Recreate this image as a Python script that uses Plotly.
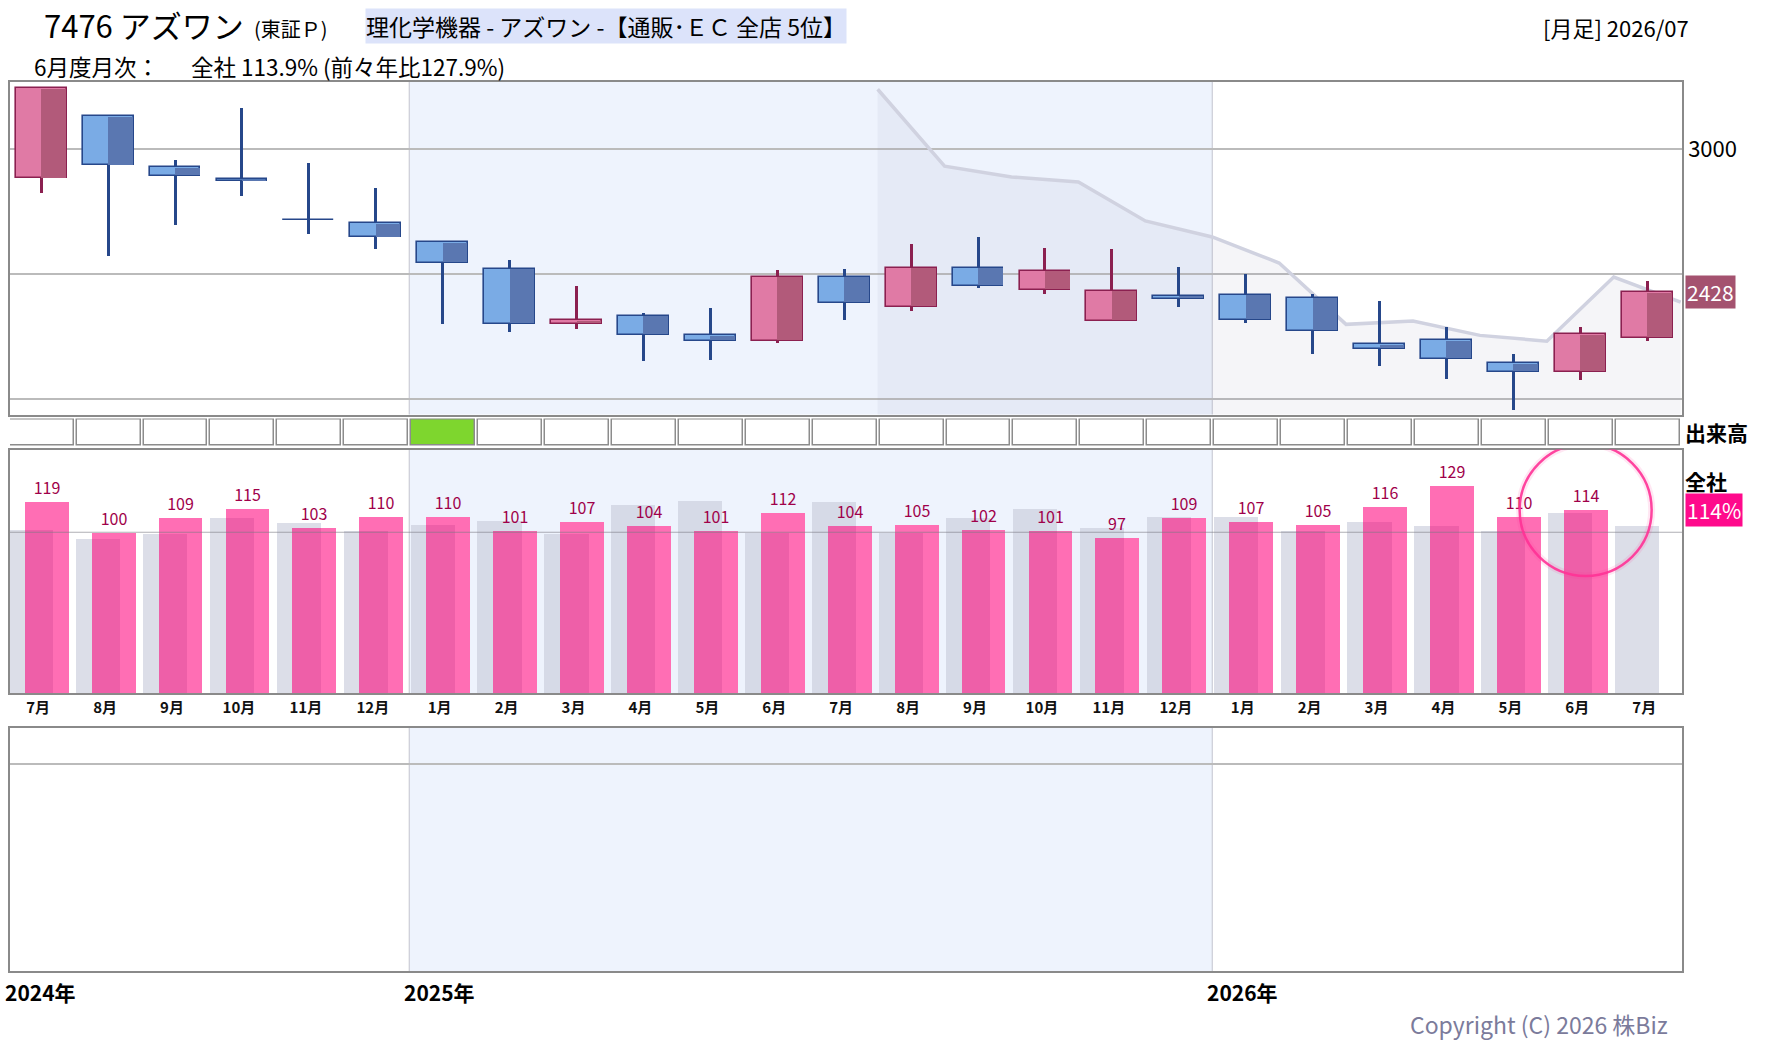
import plotly.graph_objects as go

# ---------------- data ----------------
months = ["7月", "8月", "9月", "10月", "11月", "12月", "1月", "2月", "3月", "4月", "5月", "6月",
          "7月", "8月", "9月", "10月", "11月", "12月", "1月", "2月", "3月", "4月", "5月", "6月", "7月"]
years = ["2024年", "2025年", "2026年"]

open_ = [2883, 3131, 2927, 2879, 2718, 2703, 2627, 2523, 2303, 2335, 2259, 2235, 2491,
         2371, 2527, 2439, 2315, 2415, 2419, 2407, 2223, 2239, 2147, 2111, 2247]
high = [3245, 3131, 2956, 3164, 2944, 2844, 2627, 2556, 2452, 2347, 2367, 2516, 2520,
        2620, 2648, 2604, 2600, 2528, 2500, 2420, 2392, 2291, 2180, 2291, 2472]
low = [2825, 2573, 2696, 2812, 2660, 2600, 2301, 2269, 2281, 2153, 2159, 2225, 2317,
       2353, 2445, 2421, 2315, 2369, 2305, 2181, 2133, 2081, 1959, 2079, 2235]
close = [3243, 2935, 2893, 2871, 2716, 2647, 2547, 2303, 2316, 2259, 2235, 2491, 2387,
         2527, 2455, 2515, 2435, 2403, 2319, 2275, 2203, 2163, 2111, 2263, 2428]

# grey trend line (starts half a month after index 12)
trend_start = 12
trend_values = [3239, 2932, 2889, 2869, 2713, 2649, 2545, 2300, 2313, 2256, 2233, 2489, 2389]

# monthly sales vs previous year (%), all stores
sales_yoy = [119, 100, 109, 115, 103, 110, 110, 101, 107, 104, 101, 112, 104, 105, 102, 101,
             97, 109, 107, 105, 116, 129, 110, 113.9]
prev_year_yoy = [102, 96, 99, 109, 106, 101, 105, 107.5, 99, 117.5, 119.5, 100, 119, 100, 109,
                 115, 103, 110, 110, 101, 107, 104, 101, 112, 104]
base_line = 100

volume_flag = [0, 0, 0, 0, 0, 0, 1, 0, 0, 0, 0, 0, 0, 0, 0, 0, 0, 0, 0, 0, 0, 0, 0, 0, 0]

price_ticks = [2000, 2500, 3000]
price_tick_labels = ["", "", "3000"]

# ---------------- layout helpers ----------------
W, H = 1780, 1054
L, R, T, B = 8, 98, 82, 83
PW, PH = W - L - R, H - T - B


def px_x(px):
    return (px - L) / PW


def px_y(py):
    return (H - B - py) / PH


FONT = "Noto Sans CJK JP"
n = len(months)
idx = list(range(n))
XR = [-0.466, 24.52]

fig = go.Figure()

# trend line with filled area (base price axis)
trend_x = [trend_start + k + 0.5 for k in range(len(trend_values))]
fig.add_trace(go.Scatter(
    x=trend_x, y=trend_values, mode="lines",
    line=dict(color="rgba(208,210,224,1)", width=3.5),
    fill="tozeroy", fillcolor="rgba(140,140,175,0.09)",
    xaxis="x", yaxis="y", hoverinfo="skip"))

# candles (drawn on overlay axis so they sit above the trend line)
up = [c >= o for o, c in zip(open_, close)]
border = ["#8B2050" if u else "#26478A" for u in up]
light = ["#E07AA5" if u else "#7AABE5" for u in up]
dark = ["#B25A7A" if u else "#5A77B1" for u in up]
lo = [min(o, c) for o, c in zip(open_, close)]
hi = [max(o, c) for o, c in zip(open_, close)]

fig.add_trace(go.Bar(
    x=idx, base=low, y=[h - l for h, l in zip(high, low)],
    width=0.045, offset=-0.0225,
    marker=dict(color=border, line=dict(width=0)),
    xaxis="x", yaxis="y5", hoverinfo="skip"))
fig.add_trace(go.Bar(
    x=idx, base=lo, y=[max(h - l, 1) for h, l in zip(hi, lo)],
    width=0.76, offset=-0.38,
    marker=dict(color=light, line=dict(color=border, width=1.6)),
    xaxis="x", yaxis="y5", hoverinfo="skip"))
fig.add_trace(go.Bar(
    x=idx, base=[l + 3.5 for l in lo], y=[max(h - l - 7, 0) for h, l in zip(hi, lo)],
    width=0.367, offset=0.0,
    marker=dict(color=dark, line=dict(width=0)),
    xaxis="x", yaxis="y5", hoverinfo="skip"))

# volume flag boxes row
fig.add_trace(go.Bar(
    x=idx, y=[1] * n, base=0, width=0.955, offset=-0.47,
    marker=dict(color=["#7ED62E" if f else "#FFFFFF" for f in volume_flag],
                line=dict(color="#8C8C8C", width=1.5)),
    xaxis="x3", yaxis="y3", hoverinfo="skip"))

# sales bars
ns = len(sales_yoy)
fig.add_trace(go.Bar(
    x=idx, y=prev_year_yoy, width=0.66, offset=-0.48,
    marker=dict(color="rgba(198,202,218,0.62)", line=dict(width=0)),
    xaxis="x2", yaxis="y2", hoverinfo="skip"))
fig.add_trace(go.Bar(
    x=idx[:ns], y=sales_yoy, width=0.655, offset=-0.245,
    marker=dict(color="#FF6EB4", line=dict(width=0)),
    text=[f"{v:.0f}" for v in sales_yoy], textposition="outside",
    textfont=dict(family=FONT, size=16, color="#A0004A"),
    cliponaxis=False, constraintext="none",
    xaxis="x2", yaxis="y2", hoverinfo="skip"))
fig.add_trace(go.Bar(
    x=idx[:ns], y=[min(s, p) for s, p in zip(sales_yoy, prev_year_yoy[:ns])],
    width=0.425, offset=-0.245,
    marker=dict(color="#EE5FA8", line=dict(width=0)),
    xaxis="x2", yaxis="y2", hoverinfo="skip"))

# ---------------- shapes ----------------
shapes = []
year_bounds = [i - 0.5 for i, m in enumerate(months) if m == "1月"]
panels = [("x", "y"), ("x2", "y2"), ("x4", "y4")]
for xa, ya in panels:
    shapes.append(dict(type="rect", xref=xa, yref=f"{ya} domain",
                       x0=year_bounds[0], x1=year_bounds[1], y0=0, y1=1,
                       fillcolor="#EEF3FD", line=dict(width=0), layer="below"))
    for b in year_bounds:
        shapes.append(dict(type="line", xref=xa, yref=f"{ya} domain",
                           x0=b, x1=b, y0=0, y1=1,
                           line=dict(color="#C2C4CE", width=1), layer="below"))

shapes.append(dict(type="line", xref="x2 domain", yref="y2", x0=0, x1=1,
                   y0=base_line, y1=base_line,
                   line=dict(color="rgba(120,120,130,0.6)", width=1.2), layer="above"))

cx = ns - 1 + 0.08
cy = sales_yoy[-1]
for w_, col in [(7, "rgba(255,60,160,0.12)"), (2.5, "rgba(255,50,150,0.9)")]:
    shapes.append(dict(type="circle", xref="x2", yref="y2",
                       xsizemode="pixel", ysizemode="pixel",
                       xanchor=cx, yanchor=cy, x0=-66, x1=66, y0=-66, y1=66,
                       line=dict(color=col, width=w_), layer="above"))

# ---------------- annotations ----------------
ann = []


def add_text(text, x, y, size, color="#000000", xanchor="left", xref="paper", yref="paper",
             bold=False, **kw):
    ann.append(dict(text=f"<b>{text}</b>" if bold else text, x=x, y=y, xref=xref, yref=yref,
                    xanchor=xanchor, yanchor="middle", showarrow=False,
                    font=dict(family=FONT, size=size, color=color), **kw))


add_text("7476 アズワン", px_x(40), px_y(25), 31)
add_text("(東証Ｐ)", px_x(250), px_y(28), 20)
add_text("理化学機器 - アズワン -【通販･ＥＣ 全店 5位】", px_x(363), px_y(26), 23,
         bgcolor="#DCE3FA", borderpad=0)
add_text("[月足] 2026/07", px_x(1691), px_y(27), 22, xanchor="right")
add_text("6月度月次：", px_x(30), px_y(66), 22.5)
add_text("全社 113.9% (前々年比127.9%)", px_x(187), px_y(66), 22.5)

add_text("出来高", 1.0, 0.5, 21, yref="y3 domain", xshift=1, bold=True)
add_text("全社", 1.0, 0.87, 21, yref="y2 domain", xshift=1, bold=True)
add_text(f"{sales_yoy[-1]:.0f}%", 1.0, sales_yoy[-1], 21, color="#FFFFFF", yref="y2",
         xshift=3, bgcolor="#FF0A8C", borderpad=1)
add_text(f"{close[-1]}", 1.0, close[-1], 21, color="#FFFFFF", yref="y",
         xshift=3, bgcolor="#A4526F", borderpad=1)

year_pos = [XR[0]] + year_bounds
for yl, xp in zip(years, year_pos):
    add_text(yl, xp, px_y(992), 21, xref="x4", bold=True, xshift=-7)

add_text("Copyright (C) 2026 株Biz", px_x(1670), px_y(1024), 23, color="#7B7B9B", xanchor="right")

# ---------------- axes ----------------
frame = dict(showline=True, mirror=True, linecolor="#8A8A8A", linewidth=1.5, zeroline=False)
fig.update_layout(
    width=W, height=H, autosize=False,
    margin=dict(l=L, r=R, t=T, b=B),
    paper_bgcolor="white", plot_bgcolor="white",
    showlegend=False, barmode="overlay", bargap=0,
    font=dict(family=FONT, color="#000000"),
    xaxis=dict(domain=[0, 1], anchor="y", range=XR, showgrid=False,
               showticklabels=False, ticks="", **frame),
    yaxis=dict(domain=[px_y(414.5), 1], anchor="x", range=[1940, 3268], side="right",
               tickvals=price_ticks, ticktext=price_tick_labels, ticks="",
               tickfont=dict(size=22, family=FONT), showgrid=True, gridcolor="#BBBBBB",
               gridwidth=1.5, **frame),
    yaxis5=dict(overlaying="y", anchor="x", range=[1940, 3268], visible=False),
    xaxis3=dict(domain=[0, 1], anchor="y3", range=XR, visible=False),
    yaxis3=dict(domain=[px_y(446), px_y(418.5)], anchor="x3", range=[-0.03, 1.03],
                visible=False),
    xaxis2=dict(domain=[0, 1], anchor="y2", range=XR, showgrid=False,
                tickvals=idx, ticktext=[f"<b>{m}</b>" for m in months], ticks="",
                ticklabelshift=-3,
                tickfont=dict(size=15, family=FONT, color="#111111"), **frame),
    yaxis2=dict(domain=[px_y(693), px_y(449.5)], anchor="x2", range=[0, 151.5],
                showgrid=False, showticklabels=False, ticks="", **frame),
    xaxis4=dict(domain=[0, 1], anchor="y4", range=XR, showgrid=False,
                showticklabels=False, ticks="", **frame),
    yaxis4=dict(domain=[0, px_y(727.5)], anchor="x4", range=[0, 1], tickvals=[0.85],
                showgrid=True, gridcolor="#BBBBBB", gridwidth=1.5,
                showticklabels=False, ticks="", **frame),
    shapes=shapes, annotations=ann,
)

fig.write_html("out.html")
